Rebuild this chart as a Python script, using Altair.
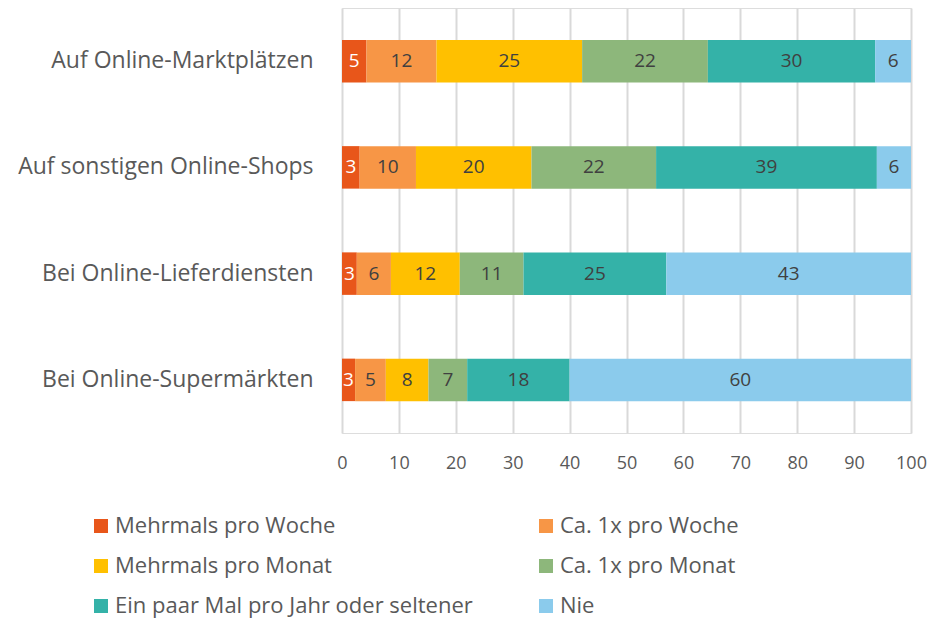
import altair as alt
import pandas as pd

categories = ["Auf Online-Marktplätzen", "Auf sonstigen Online-Shops",
              "Bei Online-Lieferdiensten", "Bei Online-Supermärkten"]
series = ["Mehrmals pro Woche", "Ca. 1x pro Woche", "Mehrmals pro Monat",
          "Ca. 1x  pro Monat", "Ein paar Mal pro Jahr oder seltener", "Nie"]
colors = ["#E8561A", "#F79646", "#FFC000", "#8DB77B", "#34B2A8", "#8BCBEC"]

# shares (percent), per category, in series order
values = {
    "Auf Online-Marktplätzen":    [4.3, 12.3, 25.6, 22.1, 29.4, 6.3],
    "Auf sonstigen Online-Shops": [3.1, 9.9, 20.3, 21.9, 38.8, 6.0],
    "Bei Online-Lieferdiensten":  [2.6, 6.0, 12.1, 11.2, 25.1, 43.0],
    "Bei Online-Supermärkten":    [2.3, 5.4, 7.5, 6.8, 18.0, 60.0],
}
# printed data labels
labels = {
    "Auf Online-Marktplätzen":    [5, 12, 25, 22, 30, 6],
    "Auf sonstigen Online-Shops": [3, 10, 20, 22, 39, 6],
    "Bei Online-Lieferdiensten":  [3, 6, 12, 11, 25, 43],
    "Bei Online-Supermärkten":    [3, 5, 8, 7, 18, 60],
}
x_ticks = list(range(0, 101, 10))

rows = []
for c in categories:
    start = 0.0
    for i, s in enumerate(series):
        v = values[c][i]
        rows.append({"cat": c, "series": s, "order": i, "start": start,
                     "end": start + v, "mid": start + v / 2,
                     "label": str(labels[c][i]),
                     "white": "w" if i == 0 else "d"})
        start += v
df = pd.DataFrame(rows)

# legend fills column by column: reorder so it reads row by row as in the original
leg_idx = [0, 2, 4, 1, 3, 5]
leg_domain = [series[i] for i in leg_idx]
leg_range = [colors[i] for i in leg_idx]

FONT = "Open Sans"
xscale = alt.Scale(domain=[0, 100], nice=False, zero=True)
yscale = alt.Scale(domain=categories, paddingInner=0.6, paddingOuter=0.3)

base = alt.Chart(df)

bars = base.mark_bar().encode(
    x=alt.X("start:Q", scale=xscale,
            axis=alt.Axis(values=x_ticks, title=None, domain=False, ticks=False,
                          grid=True, gridColor="#d9d9d9", gridWidth=2,
                          labelFont=FONT, labelFontSize=18, labelColor="#595959",
                          labelPadding=21, labelFlush=False)),
    x2="end:Q",
    y=alt.Y("cat:N", scale=yscale, sort=categories,
            axis=alt.Axis(title=None, domain=False, ticks=False, grid=False,
                          labelFont=FONT, labelFontSize=23, labelColor="#595959",
                          labelPadding=29, labelLimit=400)),
    color=alt.Color("series:N", scale=alt.Scale(domain=leg_domain, range=leg_range),
                    legend=alt.Legend(title=None, orient="none", legendX=-252,
                                      legendY=507, columns=2, columnPadding=62,
                                      rowPadding=18, symbolType="square",
                                      symbolSize=196, symbolStrokeWidth=0,
                                      labelFont=FONT, labelFontSize=22,
                                      labelColor="#595959", labelOffset=3,
                                      labelLimit=500, padding=0)),
    order=alt.Order("order:Q"),
)

text = base.mark_text(font=FONT, fontSize=19, baseline="middle", align="center").encode(
    x=alt.X("mid:Q", scale=xscale),
    y=alt.Y("cat:N", scale=yscale, sort=categories),
    text="label:N",
    color=alt.Color("white:N", scale=alt.Scale(domain=["w", "d"], range=["#ffffff", "#404040"]),
                    legend=None),
)

chart = alt.layer(bars, text).resolve_scale(color="independent").properties(
    width=569, height=425,
    autosize=alt.AutoSizeParams(type="none"),
    padding={"left": 334, "top": 0, "right": 21, "bottom": 187},
).configure_view(stroke=None).configure(background="white")

chart.save("out.html", embed_options={"renderer": "svg", "actions": False})
